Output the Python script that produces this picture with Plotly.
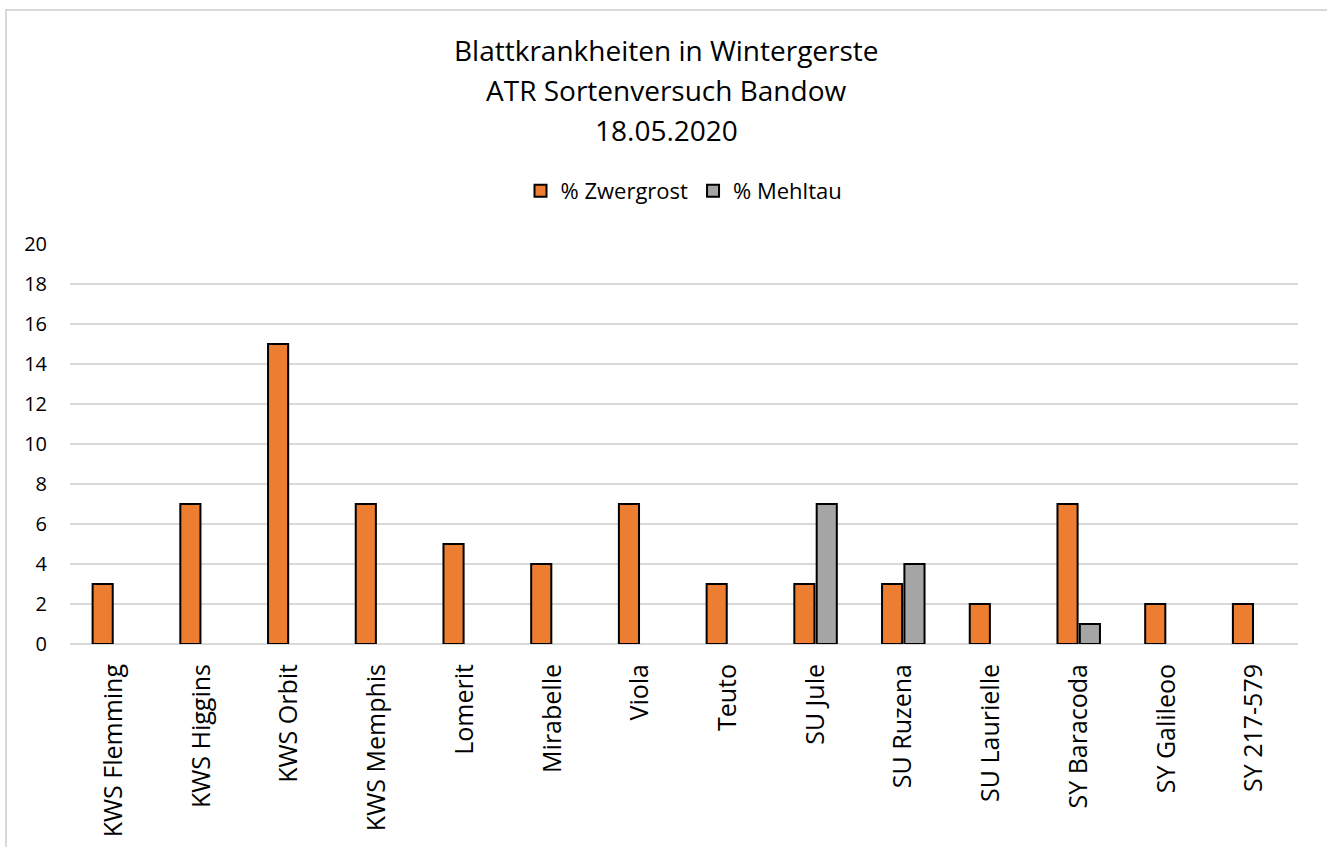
import plotly.graph_objects as go

categories = ["KWS Flemming", "KWS Higgins", "KWS Orbit", "KWS Memphis", "Lomerit",
              "Mirabelle", "Viola", "Teuto", "SU Jule", "SU Ruzena", "SU Laurielle",
              "SY Baracoda", "SY Galileoo", "SY 217-579"]
zwergrost = [3, 7, 15, 7, 5, 4, 7, 3, 3, 3, 2, 7, 2, 2]
mehltau = [None, None, None, None, None, None, None, None, 7, 4, None, 1, None, None]
title_lines = ["Blattkrankheiten in Wintergerste", "ATR Sortenversuch Bandow", "18.05.2020"]

FONT = "Open Sans"
fig = go.Figure()
fig.add_trace(go.Bar(x=categories, y=zwergrost, name="% Zwergrost",
                     marker=dict(color="#ED7D31", line=dict(color="black", width=2))))
fig.add_trace(go.Bar(x=categories, y=mehltau, name="% Mehltau",
                     marker=dict(color="#A5A5A5", line=dict(color="black", width=2))))

L, R, T, B = 70, 29, 244, 203
W, H = 1327, 847
pw, ph = W - L - R, H - T - B

def px(x):
    return (x - L) / pw

def py(y):
    return (H - B - y) / ph

fig.update_layout(
    width=W, height=H,
    margin=dict(l=L, r=R, t=T, b=B, autoexpand=False),
    paper_bgcolor="white", plot_bgcolor="white",
    barmode="group", bargap=0.49, bargroupgap=0.1,
    font=dict(family=FONT, color="#000000"),
    showlegend=True,
    legend=dict(orientation="h", x=0.5, xanchor="center", y=py(191), yanchor="middle",
                font=dict(size=22, family=FONT), traceorder="normal"),
    xaxis=dict(tickangle=-90, tickfont=dict(size=25, family=FONT), showline=False,
               showgrid=False, ticks="", ticklabelstandoff=14, automargin=False),
    yaxis=dict(range=[0, 20], dtick=2, tickfont=dict(size=20, family=FONT),
               gridcolor="#D9D9D9", gridwidth=2, zeroline=True, zerolinecolor="#D9D9D9",
               zerolinewidth=2, showline=False, ticks="", ticklabelstandoff=22,
               automargin=False),
)

for i, (t, yp) in enumerate(zip(title_lines, [50, 90, 130])):
    fig.add_annotation(text=t, xref="paper", yref="paper", x=px(666), y=py(yp),
                       xanchor="center", yanchor="middle", showarrow=False,
                       font=dict(size=28, family=FONT, color="#000000"))

fig.add_shape(type="rect", xref="paper", yref="paper",
              x0=px(6), x1=px(1340), y0=py(10), y1=py(860),
              line=dict(color="#D9D9D9", width=2), fillcolor="rgba(0,0,0,0)", layer="below")

fig.write_html("out.html", config={"displayModeBar": False},
               post_script="document.body.style.margin='0';document.body.style.overflow='hidden';")
